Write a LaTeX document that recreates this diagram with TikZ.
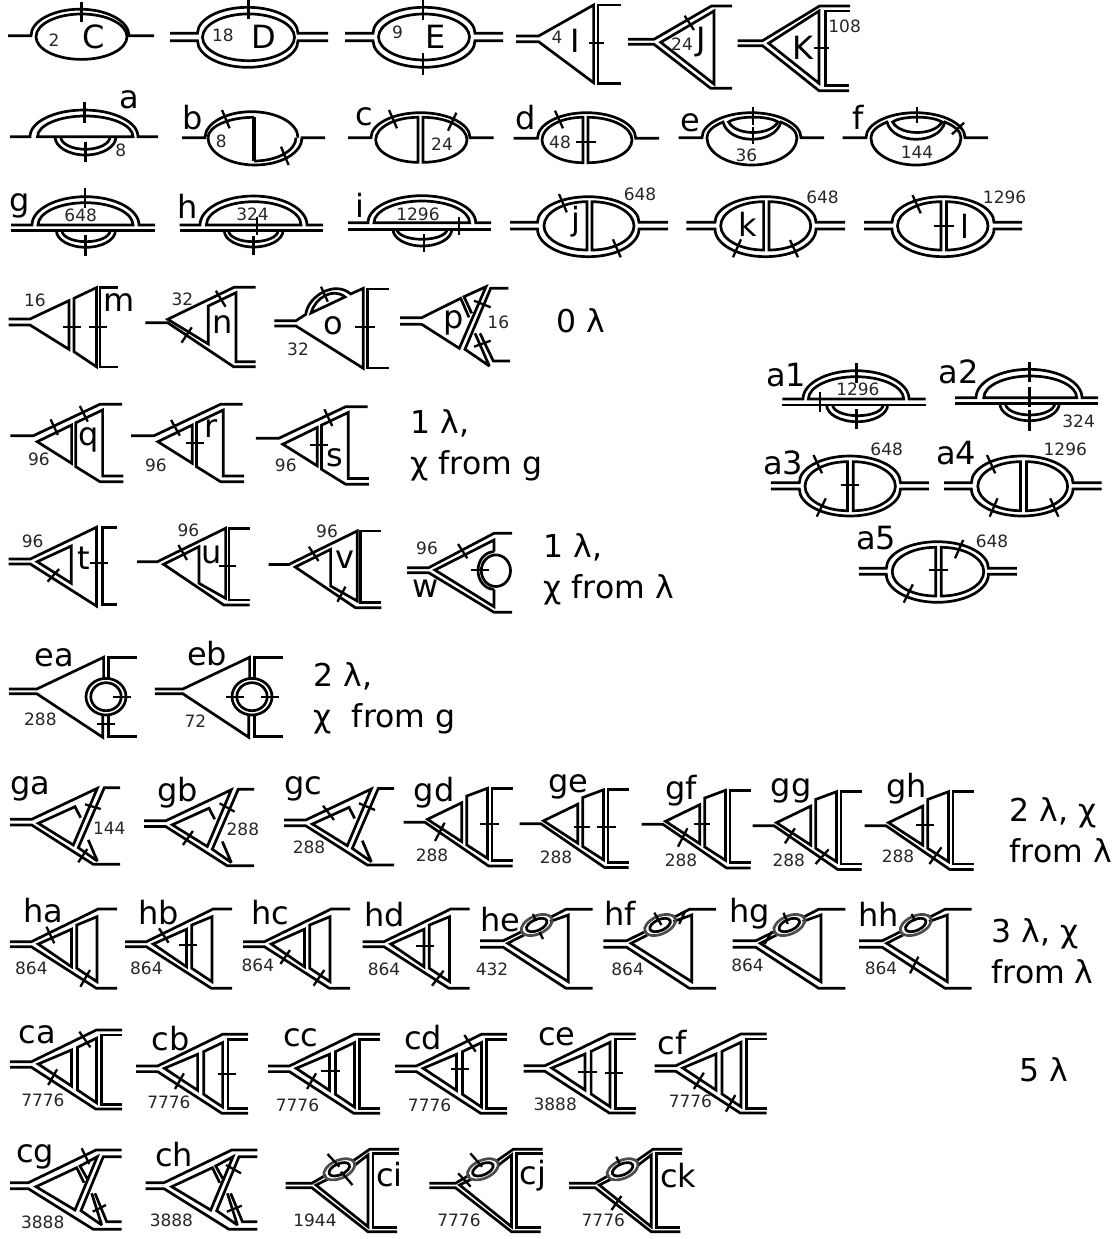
\documentclass[tikz,border=0pt]{standalone}
\usepackage{fontspec}
\setmainfont{DejaVu Sans}
\newcounter{labc}
\tikzset{
  ln/.style={line width=2.7pt, line join=miter, miter limit=3},
  tk/.style={line width=2.3pt},
  lbl/.style={font=\fontsize{32}{34}\selectfont, inner sep=0pt},
  nmb/.style={font=\fontsize{17}{19}\selectfont, inner sep=0pt, text=black!85},
  note/.style={font=\fontsize{31.5}{41}\selectfont, inner sep=0pt, anchor=west, align=left}
}
\newcommand{\lab}[3]{\stepcounter{labc}\node[lbl] (lab\thelabc) at (#1,#2) {#3};}
\newcommand{\nmb}[3]{\stepcounter{labc}\node[nmb] (nmb\thelabc) at (#1,#2) {#3};}
\newcommand{\tick}[4]{\draw[tk] (#1,#2) -- (#3,#4);}
\newcommand{\ovalup}[6]{\draw[ln] (#1,#5) -- (#2,#5) arc[start angle=180,end angle=360,x radius={(#3-#2)/2},y radius=#6] -- (#4,#5);}
\newcommand{\ovaldown}[6]{\draw[ln] (#1,#5) -- (#2,#5) arc[start angle=180,end angle=0,x radius={(#3-#2)/2},y radius=#6] -- (#4,#5);}
\newcommand{\ring}[4]{\draw[ln] (#1,#2) ellipse[x radius=#3,y radius=#4];}
\newcommand{\lid}[4]{\draw[ln] (#1,#3) arc[start angle=180,end angle=360,x radius={(#2-#1)/2},y radius=#4] -- cycle;}
\newcommand{\bowl}[4]{\draw[ln] (#1,#3) arc[start angle=180,end angle=0,x radius={(#2-#1)/2},y radius=#4];}
\newcommand{\dees}[6]{%
  \draw[ln] (#2,#5) arc[start angle=270,end angle=90,x radius={#2-#1},y radius={(#6-#5)/2}] -- cycle;
  \draw[ln] (#3,#5) arc[start angle=-90,end angle=90,x radius={#4-#3},y radius={(#6-#5)/2}] -- cycle;}
\newcommand{\fatoval}[9]{%
  \ovalup{#1}{#2}{#3}{#4}{#5}{#7}
  \ovaldown{#1}{#2}{#3}{#4}{#6}{#8}
  #9}
\newcommand{\browoval}[1]{\begin{scope}[shift={(#1,0)}]
  \ovalup{678.6}{702}{801}{824}{137.7}{25}
  \draw[ln] (723,122.1) arc[start angle=230,end angle=180,x radius=45,y radius=20.4]
    arc[start angle=180,end angle=0,x radius=45,y radius=27.3]
    arc[start angle=360,end angle=310,x radius=45,y radius=20.4]
    .. controls (775,145) and (729,145) .. cycle;
  \draw[ln] (728.6,122) .. controls (738,115.5) and (768,115.5) .. (778,122)
    .. controls (770,136) and (736,136) .. cycle;
\end{scope}}
\newcommand{\ladderfull}[2]{\begin{scope}[shift={(#1,#2)}]
  \draw[ln] (10,1061.7) -- (31.4,1061.7) -- (96.4,1030) -- (122,1030);
  \draw[ln] (10,1067.3) -- (31.4,1067.3) -- (95.7,1109) -- (122,1109);
  \draw[ln] (122,1035) -- (101.8,1035) -- (101.8,1104.3) -- (122,1104.3);
  \draw[ln] (38.2,1064) -- (71.4,1050) -- (71.4,1086) -- cycle;
  \draw[ln] (77.5,1047.3) -- (96.4,1038.3) -- (96.4,1102.7) -- (77.5,1090) -- cycle;
\end{scope}}
\newcommand{\ladderopen}[1]{\begin{scope}[shift={(#1,0)}]
  \draw[ln] (10,941.7) -- (31.4,941.7) -- (98.2,909) -- (117,909);
  \draw[ln] (10,946.7) -- (31.4,946.7) -- (96.4,988.3) -- (117,988.3);
  \draw[ln] (38.2,944) -- (71.4,929.3) -- (71.4,966.7) -- cycle;
  \draw[ln] (76.8,925) -- (97,916.7) -- (97,981.7) -- (76.8,968.3) -- cycle;
\end{scope}}
\newcommand{\ladderbot}[2]{\begin{scope}[shift={(#1,#2)}]
  \draw[ln] (403.6,822.3) -- (425,822.3) -- (488.6,866) -- (512.5,866);
  \draw[ln] (427.5,819.3) -- (461.8,802.7) -- (461.8,841.7) -- cycle;
  \draw[ln] (466.8,796) -- (487.5,788.3) -- (487.5,858.3) -- (466.8,845) -- cycle;
  \draw[ln] (512.5,788.3) -- (492.1,788.3) -- (492.1,860.7) -- (512.5,860.7);
\end{scope}}
\newcommand{\laddertop}[2]{\begin{scope}[shift={(#1,#2)}]
  \draw[ln] (10.3,435.7) -- (33.4,435.7) -- (99.9,404.3) -- (122,404.3);
  \draw[ln] (37.2,441.7) -- (71.6,425) -- (71.6,463.3) -- cycle;
  \draw[ln] (123.3,481.7) -- (99.9,481.7) -- (75.8,466.7) -- (75.8,422.7) -- (102.6,410) -- (102.6,476) -- (123.3,476);
\end{scope}}
\newcommand{\kinktri}[2]{\begin{scope}[shift={(#1,#2)}]
  \draw[ln] (137,561.7) -- (157.4,561.7) -- (225.6,528.3) -- (225.6,598.3) -- (199,583.3) -- (199,546.7) -- (163.6,564.3) -- (223.8,605) -- (249.7,605);
  \draw[ln] (249.7,528.3) -- (229,528.3) -- (229,600) -- (249.7,600);
\end{scope}}
\newcommand{\looptri}[1]{\begin{scope}[shift={(#1,0)}]
  \draw[ln] (8.9,689) -- (36.8,689) -- (103.6,657.3) -- (103.6,678);
  \draw[ln] (8.9,693.7) -- (36.8,693.7) -- (102.8,737.3) -- (102.8,716);
  \draw[ln] (136.8,657.3) -- (108.2,657.3) -- (108.2,678);
  \draw[ln] (136.8,736.7) -- (108.2,736.7) -- (108.2,716);
  \ring{106}{696.7}{20}{18.3}
  \ring{106}{696.7}{15.2}{14}
\end{scope}}
\newcommand{\blob}[2]{%
  \draw[ln,black!70,rotate around={-24:(#1,#2)}] (#1,#2) ellipse[x radius=16.5,y radius=9];
  \draw[ln,rotate around={-24:(#1,#2)}] (#1,#2) ellipse[x radius=11,y radius=5.5];}
\newcommand{\bubbletri}[1]{\begin{scope}[shift={(#1,0)}]
  \draw[ln] (859,940.7) -- (882.3,940.7) -- (902,931);
  \draw[ln] (930,917) -- (945,909.3) -- (971.7,909.3);
  \draw[ln] (903,935) -- (886.7,943.3) -- (947.3,981.7) -- (947.3,915) -- (929,921.5);
  \draw[ln] (859,947.3) -- (882.3,947.3) -- (945,988.3) -- (971.7,988.3);
  \blob{915.7}{925}
\end{scope}}
\newcommand{\bubblebox}[1]{\begin{scope}[shift={(#1,0)}]
  \draw[ln] (285.7,1183.3) -- (311.8,1183.3) -- (326,1175);
  \draw[ln] (353.6,1160.5) -- (369.6,1149.3) -- (399,1149.3);
  \draw[ln] (328,1179) -- (316,1185) -- (367.9,1226.7) -- (367.9,1155) -- (355,1165);
  \draw[ln] (285.7,1187.7) -- (311.8,1187.7) -- (367.9,1231.7) -- (397,1231.7);
  \draw[ln] (399,1153.3) -- (373,1153.3) -- (373,1227.3) -- (397,1227.3);
  \blob{339.3}{1169.3}
\end{scope}}
\newcommand{\crossone}[2]{\begin{scope}[shift={(#1,#2)}]
  \draw[ln] (10,819.3) -- (31.7,819.3) -- (97.3,788.3) -- (73.3,845) -- (38.3,823.3) -- (75,806.7) -- (80.7,817.7);
  \draw[ln] (120,787.7) -- (104.3,787.7) -- (78.3,847.7) -- (97.3,861) -- (88.3,840);
  \draw[ln] (10,825) -- (31.7,825) -- (93.3,864.3) -- (120,864.3);
\end{scope}}
\newcommand{\crosstwo}[1]{\begin{scope}[shift={(#1,0)}]
  \draw[ln] (10,1182.7) -- (28.3,1182.7) -- (96,1150) -- (121.7,1150);
  \draw[ln] (10,1188.7) -- (28.3,1188.7) -- (93.3,1229.3) -- (121.7,1229.3);
  \draw[ln] (84,1182.7) -- (76.7,1167.7) -- (36,1186.7) -- (75,1210) -- (97.3,1156.7) -- (80,1166) -- (88.3,1180.7);
  \draw[ln] (121.7,1156.7) -- (103.3,1156.7) -- (81,1210.7) -- (101.7,1225) -- (91.7,1193.3);
  \draw[ln] (95,1193.3) -- (106.7,1221.7) -- (121.7,1221.7);
\end{scope}}

\begin{document}
\begin{tikzpicture}[x=1pt,y=1pt,yscale=-1]
\useasboundingbox (0,0) rectangle (1118,1239);

\ovalup{8}{31}{129}{154}{35.7}{26.5}
\ring{81.5}{36.7}{45.5}{22.7}
\tick{81.5}{2}{81.5}{22}
\lab{94}{37}{C} \nmb{54}{40}{2}

\fatoval{170}{197.5}{298}{328}{33.3}{40.7}{26}{26.6}{\ring{248.5}{37.3}{46}{23.4}}
\tick{248.5}{0}{248.5}{19}
\lab{264}{37}{D} \nmb{223}{35}{18}

\fatoval{345}{373}{475}{503}{33.3}{40.7}{26}{26.6}{\ring{424}{37}{45.5}{23}}
\tick{423}{0}{423}{20} \tick{423}{53}{423}{75}
\lab{436}{37}{E} \nmb{397.5}{32}{9}

\draw[ln] (516,36) -- (538.6,36) -- (593.6,5) -- (593.6,82.7) -- (538.6,41.7) -- (516,41.7);
\draw[ln] (620.7,5) -- (598,5) -- (598,83.3) -- (620.7,83.3);
\tick{588.6}{43.3}{603.6}{43.3}
\lab{575.7}{40.7}{I} \nmb{557}{37.7}{4}

\draw[ln] (628,39.3) -- (654,39.3) -- (711.4,6) -- (732,6);
\draw[ln] (628,44.3) -- (654,44.3) -- (710.7,88.3) -- (732,88.3);
\draw[ln] (660.7,42.3) -- (714,11) -- (714,84) -- cycle;
\tick{684.6}{15.7}{694}{30}
\lab{701}{41.7}{J} \nmb{682}{44.3}{24}

\draw[ln] (737.5,40.7) -- (762.5,40.7) -- (819.6,6) -- (850,6);
\draw[ln] (737.5,45.7) -- (762.5,45.7) -- (819,90.7) -- (849,90.7);
\draw[ln] (768.6,43.3) -- (819,11) -- (819,83.3) -- cycle;
\draw[ln] (850,11) -- (825.7,11) -- (825.7,85.7) -- (849,85.7);
\tick{814}{48.3}{829}{48.3}
\lab{803}{48}{K} \nmb{844.6}{26}{108}

\ovalup{10}{30}{138}{158}{136.7}{26.7}
\lid{37.5}{133}{136.7}{20.7}
\bowl{55}{116}{136.7}{18.3} \bowl{60.7}{110}{136.7}{12.6}
\tick{84.6}{101.7}{84.6}{122.7} \tick{85.5}{141.7}{85.5}{161.7}
\lab{129}{100}{a} \nmb{120.7}{150.7}{8}

\ovalup{182}{205}{298}{298}{137.7}{26}
\ovaldown{208}{208}{302}{325}{137.7}{27.3}
\draw[ln] (208,137.7) arc[start angle=180,end angle=270,x radius=46,y radius=20.4] (254,161) arc[start angle=90,end angle=0,x radius=42,y radius=23.3];
\draw[ln,line width=3.4pt] (254,117.3) -- (254,161);
\tick{222}{110}{229.6}{128.3} \tick{281}{146.7}{288.6}{165}
\lab{193}{118}{b} \nmb{221.4}{141.7}{8}

\ovalup{348}{371}{470}{493.5}{137.7}{25}
\dees{375.7}{418}{423}{467}{117.3}{162.3}
\tick{389}{110}{397}{128.3} \tick{456.4}{112.7}{448}{130.7}
\lab{364}{116.7}{c} \nmb{442}{144.3}{24}

\ovalup{513.6}{537.5}{635.7}{659}{138.3}{25.6}
\dees{542}{583}{588}{632}{117.3}{162.7}
\tick{555}{110.7}{563}{128.3} \tick{576}{141.7}{596}{141.7}
\lab{526}{117.3}{d} \nmb{560}{142.7}{48}

\browoval{0}
\tick{753}{106.7}{753}{125} \tick{753}{127.3}{753}{144.3}
\lab{690}{123}{e} \nmb{746.4}{155}{36}

\browoval{164}
\tick{917}{106.7}{917}{123} \tick{952}{134.3}{964}{122.7}
\lab{858}{117.3}{f} \nmb{917}{152.7}{144}

\ovalup{11}{32}{139}{155}{225}{28.3}
\lid{38}{133}{225}{22.3}
\draw[ln] (11,230.7) -- (155,230.7);
\bowl{56.4}{115.4}{230.7}{16.6} \bowl{62}{110}{230.7}{11}
\tick{85}{188}{85}{208} \tick{85.5}{235}{85.5}{256}
\lab{19.6}{205.7}{g} \nmb{80.7}{215}{648}

\ovalup{179.6}{200}{307}{323}{225}{29}
\lid{206.4}{301}{225}{23.3}
\draw[ln] (179.6,230.7) -- (323,230.7);
\bowl{224.3}{283}{230.7}{16.3} \bowl{228.6}{278}{230.7}{11}
\tick{257}{216.7}{257}{235} \tick{253.6}{236}{253.6}{255}
\lab{188}{206.7}{h} \nmb{252.5}{214.3}{324}

\ovalup{348}{368}{475.7}{491}{222.7}{27}
\lid{374}{469.6}{222.7}{21.7}
\draw[ln] (348,229.3) -- (491,229.3);
\bowl{393}{451.8}{229.3}{16.7} \bowl{397}{447}{229.3}{10}
\tick{459}{216.7}{459}{235} \tick{424}{234}{424}{252}
\lab{360}{205.7}{i} \nmb{418}{214}{1296}

\fatoval{510}{537.5}{639}{668}{222.3}{229}{25.6}{27.7}{\dees{544}{587}{592}{634}{201.7}{250}}
\tick{559}{194}{566.8}{212.3} \tick{612.9}{239.3}{620.7}{257.3}
\lab{576}{221.7}{j} \nmb{640}{194.3}{648}

\fatoval{686.4}{715}{816}{845}{222.3}{229}{25.6}{27.7}{\dees{720.7}{763.6}{769}{810.7}{201.7}{250}}
\tick{741}{239.3}{733}{257.3} \tick{790}{240}{798}{257.3}
\lab{748}{224}{k} \nmb{822.5}{197.7}{648}

\fatoval{864}{892}{994}{1022}{222.3}{229}{25.6}{27.7}{\dees{897.5}{941}{946.4}{988}{201.7}{250}}
\tick{912.5}{195}{920.7}{213.3} \tick{934}{226}{954}{226}
\lab{965}{226}{l} \nmb{1004.6}{197.3}{1296}

\draw[ln] (8.6,319) -- (30,319) -- (68.9,300.7) -- (68.9,349.3) -- (30,325) -- (8.6,325);
\draw[ln] (74,298.3) -- (96.4,287.7) -- (96.4,366.7) -- (74,351.7) -- cycle;
\draw[ln] (117.8,287.3) -- (99.9,287.3) -- (99.9,367) -- (117.8,367);
\tick{62.7}{327.3}{81}{327.3} \tick{88.8}{327.3}{107.4}{327.3}
\lab{119.5}{303}{m} \nmb{35}{300}{16}

\draw[ln] (145.3,322.7) -- (167.7,322.7) -- (233.5,366.7) -- (255.5,366.7);
\draw[ln] (255.5,287.3) -- (234,287.3) -- (167.7,319.3) -- (208.3,344) -- (208.3,306) -- (235.9,292.7) -- (235.9,361.7) -- (255.5,361.7);
\tick{215.9}{290.7}{225.5}{306.7} \tick{181.5}{342.7}{191.8}{327.3}
\lab{222.8}{325}{n} \nmb{182.5}{299}{32}

\draw[ln] (274.4,320.7) -- (296,320.7) -- (305.8,314.3) .. controls (308,296) and (335,280) .. (350.6,294) -- (363.3,288.3) -- (363.3,368.3) -- (296,326) -- (274.4,326);
\draw[ln] (311,313) .. controls (315,298) and (333,287) .. (345,297) -- cycle;
\draw[ln] (389,289) -- (367.4,289) -- (367.4,368) -- (389,368);
\tick{354.7}{327.3}{374.7}{327.3} \tick{321}{286.7}{327.8}{301.7}
\lab{333.3}{325.7}{o} \nmb{298}{349.3}{32}

\draw[ln] (400,317.7) -- (421.7,317.7) -- (460.7,298.3) -- (469,317.3);
\draw[ln] (400,324.3) -- (421.7,324.3) -- (459.3,348.3) -- (486,286.7) -- (464,296.7) -- (471.7,313.3);
\draw[ln] (508.3,288.3) -- (490.7,288.3) -- (465,349.3) -- (489.3,366) -- (475,333.3);
\draw[ln] (480,333.3) -- (493.3,361) -- (510,361);
\tick{474}{300.7}{490.7}{307.3} \tick{474}{346.7}{490.7}{340.7}
\lab{453.3}{323.3}{p} \nmb{498.3}{322.7}{16}

\stepcounter{labc}\node[note] (note\thelabc) at (556,321) {0 λ};

\laddertop{0}{0}
\tick{50.6}{419.3}{57.9}{435} \tick{79.9}{406}{87.8}{421.7}
\lab{88.8}{440}{q} \nmb{38.9}{459.3}{96}

\laddertop{120.7}{0}
\tick{171.1}{420}{179.8}{435.7} \tick{186}{443.3}{203.9}{443.3}
\lab{210.7}{429}{r} \nmb{156}{465}{96}

\laddertop{245.6}{2.5}
\tick{324.4}{409.3}{332.3}{426} \tick{310}{445}{327.8}{445}
\lab{334.7}{457.3}{s} \nmb{285.8}{465}{96}

\stepcounter{labc}\node[note] (note\thelabc) at (410.5,445) {1 λ,\\χ from g};

\draw[ln] (8.6,559) -- (30.3,559) -- (96.4,527.3) -- (96.4,606) -- (30.3,564) -- (8.6,564);
\draw[ln] (37.2,561.7) -- (71.3,546) -- (71.3,583.3) -- cycle;
\draw[ln] (117,527.3) -- (102.6,527.3) -- (102.6,604.3) -- (117,604.3);
\tick{90.2}{562.7}{107.8}{562.7} \tick{59.2}{569}{47.5}{581.7}
\lab{83.7}{558.3}{t} \nmb{32.7}{541}{96}

\kinktri{0}{0}
\tick{178.4}{545}{187}{560} \tick{218.7}{565.7}{235.9}{565.7}
\lab{211.8}{555}{u} \nmb{188.4}{530.7}{96}

\kinktri{131.6}{2.7}
\tick{308.9}{546.7}{318.5}{561} \tick{345.4}{586.7}{337.5}{601.7}
\lab{345.4}{560}{v} \nmb{327}{531}{96}

\draw[ln] (407,567.7) -- (428.7,567.7) -- (494,533.3) -- (512,533.3);
\draw[ln] (407,572.7) -- (428.7,572.7) -- (494,612.3) -- (512,612.3);
\draw[ln] (494,551.7) -- (494,540) -- (434.9,570) -- (494,606.7) -- (494,589.3);
\draw[ln] (494,551.7) arc[start angle=-90,end angle=-270,x radius=16,y radius=18.8];
\ring{495.9}{570.7}{14.6}{15.8}
\tick{470.7}{570}{489}{570} \tick{458}{544}{467.3}{558.3}
\lab{426}{588.3}{w} \nmb{427}{548.3}{96}

\stepcounter{labc}\node[note] (note\thelabc) at (543.5,569.5) {1 λ,\\χ from λ};

\ovalup{782.3}{803}{909}{925.6}{399}{28.3}
\lid{808.4}{903.7}{399}{22.3}
\draw[ln] (782.3,405) -- (925.6,405);
\bowl{826.7}{887.6}{405}{16.7} \bowl{832.7}{883}{405}{10.7}
\tick{856.5}{363.3}{856.5}{383.3} \tick{856.5}{409}{856.5}{429.3} \tick{820.3}{391.7}{820.3}{411.7}
\lab{786}{375}{a1} \nmb{857.9}{389.3}{1296}

\ovalup{955}{976}{1082}{1098}{397.7}{28.4}
\lid{983.8}{1076.7}{397.7}{21.7}
\draw[ln] (955,403.3) -- (1098,403.3);
\bowl{999.8}{1059.3}{403.3}{17.4} \bowl{1005.3}{1054.8}{403.3}{11.7}
\tick{1029.6}{361.7}{1029.6}{381.7} \tick{1029.6}{387.3}{1029.6}{407.3} \tick{1029.6}{410}{1029.6}{430.7}
\lab{958.6}{371.7}{a2} \nmb{1078.6}{421.7}{324}

\fatoval{770.9}{799.3}{900.5}{928.9}{482.7}{489}{26.7}{27}{\dees{805}{847.4}{853.3}{895.4}{461.7}{510.7}}
\tick{813.5}{455}{822}{473.3} \tick{840.5}{485}{859}{485} \tick{825.8}{498.3}{816.7}{516.7}
\lab{783.2}{462.7}{a3} \nmb{886.7}{449.3}{648}

\fatoval{944}{971.4}{1073}{1101.5}{482.7}{489}{26.7}{27}{\dees{977.8}{1020.4}{1026.4}{1067.6}{461.7}{510.7}}
\tick{987}{455}{995.2}{473.3} \tick{997.5}{498.3}{989.7}{516.7} \tick{1050.2}{498.3}{1058.4}{516.7}
\lab{956.3}{453.3}{a4} \nmb{1065.3}{449.3}{1296}

\fatoval{858.8}{886.3}{988.4}{1016.8}{568.3}{574.3}{26.6}{28}{\dees{892.2}{935.7}{941.2}{983.8}{547.3}{596}}
\tick{963.2}{540}{955}{558.3} \tick{928.9}{570}{948}{570} \tick{912.8}{584.3}{903.7}{602.7}
\lab{876.2}{538.3}{a5} \nmb{992}{541}{648}

\looptri{0}
\tick{112.5}{696.7}{131}{696.7} \tick{97}{724.3}{115.4}{724.3}
\lab{54.6}{657.3}{ea} \nmb{40.4}{719}{288}

\looptri{146}
\tick{225.7}{696.7}{243.9}{696.7} \tick{260.7}{696.7}{278.6}{696.7}
\lab{207}{653.3}{eb} \nmb{195.4}{721}{72}

\stepcounter{labc}\node[note] (note\thelabc) at (313.5,698.5) {2 λ,\\χ\ \ from g};

\crossone{0}{0}
\tick{85}{804.3}{100.7}{809} \tick{87.3}{849}{78.3}{862.3}
\lab{30.4}{789}{ga} \nmb{109.3}{828.3}{144}

\crossone{134}{1.5}
\tick{219.6}{803.3}{234.6}{811.7} \tick{192.9}{831}{182.9}{845}
\lab{177.5}{793}{gb} \nmb{242.9}{829.3}{288}

\crossone{274}{0.7}
\tick{359}{803.3}{375}{810} \tick{323}{805.7}{334}{820}
\lab{303}{789}{gc} \nmb{309}{847.7}{288}

\ladderbot{0}{0}
\tick{480.4}{824}{499}{824} \tick{444.6}{822.7}{435}{841}
\lab{434}{793}{gd} \nmb{432}{855}{288}

\ladderbot{116}{1.5}
\tick{574}{826.7}{590}{826.7} \tick{597.4}{826.7}{616}{826.7}
\lab{568}{787}{ge} \nmb{556}{857}{288}

\ladderbot{238}{2}
\tick{693.5}{824}{710}{824} \tick{687.4}{828.3}{678}{846.7}
\lab{681}{791}{gf} \nmb{681}{860.7}{288}

\ladderbot{349}{3.4}
\tick{794.9}{828.3}{784.9}{843.3} \tick{828.7}{849.3}{815.5}{864}
\lab{791.3}{791}{gg} \nmb{788.8}{860}{288}

\ladderbot{461}{3.4}
\tick{915.9}{825}{933.7}{825} \tick{941.5}{847.3}{929.4}{864}
\lab{906.3}{789}{gh} \nmb{898}{856}{288}

\stepcounter{labc}\node[note] (note\thelabc) at (1009.5,830) {2 λ, χ\\from λ};

\ladderopen{0}
\tick{46.4}{926.7}{54.3}{943.3} \tick{90}{970}{80.4}{986.7}
\lab{43.6}{910.7}{ha} \nmb{31.4}{968.3}{864}

\ladderopen{115}
\tick{159}{928.3}{168.6}{942.7} \tick{178.6}{945}{197}{945}
\lab{159}{913}{hb} \nmb{146.4}{968.3}{864}

\ladderopen{233}
\tick{290}{950}{280.4}{964} \tick{324.3}{970}{313.6}{985.7}
\lab{270.4}{913}{hc} \nmb{257.9}{965}{864}

\ladderopen{352.5}
\tick{416}{945.7}{434}{945.7} \tick{443.6}{970.7}{432}{985.7}
\lab{384.6}{915}{hd} \nmb{384}{969.3}{864}

\bubbletri{-379}
\tick{532.9}{914}{536}{921} \tick{539.5}{932}{543}{939}
\lab{500}{920}{he} \nmb{492}{969.3}{432}

\bubbletri{-255.6}
\tick{654.3}{912.7}{661.4}{925} \tick{685.3}{910.7}{679.2}{924}
\lab{619.8}{913.3}{hf} \nmb{627.6}{969}{864}

\bubbletri{-126.4}
\tick{783.5}{912.7}{787.8}{924} \tick{771.7}{931.7}{764.6}{944}
\lab{749.7}{914}{hg} \nmb{747.5}{965}{864}

\bubbletri{0}
\tick{911.7}{914}{915}{921} \tick{918.3}{956.7}{910}{973.3}
\lab{878.5}{914}{hh} \nmb{881}{968.3}{864}

\stepcounter{labc}\node[note] (note\thelabc) at (991.5,951) {3 λ, χ\\from λ};

\ladderfull{0}{0}
\tick{79.3}{1031.7}{90.4}{1047.3} \tick{57.1}{1069.3}{48.2}{1085}
\lab{37.5}{1035}{ca} \nmb{42.9}{1100.7}{7776}

\ladderfull{126.2}{4.3}
\tick{217.9}{1074}{236.4}{1074} \tick{183.9}{1073.3}{175}{1089}
\lab{170.7}{1038.3}{cb} \nmb{168.9}{1102.7}{7776}

\ladderfull{258}{4.3}
\tick{321.4}{1070.7}{340}{1070.7} \tick{316}{1073.3}{307}{1089}
\lab{300.7}{1037.3}{cc} \nmb{297.5}{1105}{7776}

\ladderfull{385}{4.3}
\tick{464.3}{1035}{475.7}{1051.7} \tick{451}{1069}{469}{1069}
\lab{423}{1037.3}{cd} \nmb{429.6}{1105.7}{7776}

\ladderfull{513.6}{4}
\tick{578}{1071.7}{596.6}{1071.7} \tick{604.5}{1073.3}{623}{1073.3}
\lab{557}{1036.7}{ce} \nmb{555.2}{1104.3}{3888}

\ladderfull{644.5}{4}
\tick{703.8}{1072.7}{693.9}{1089} \tick{735.3}{1095}{725.9}{1111.7}
\lab{672.3}{1042.3}{cf} \nmb{690.4}{1101}{7776}

\stepcounter{labc}\node[note] (note\thelabc) at (1019,1069.3) {5 λ};

\crosstwo{0}
\tick{81.7}{1148.3}{89.3}{1164} \tick{92.7}{1211.7}{106}{1205}
\lab{35}{1156.7}{cg} \nmb{42.7}{1222.3}{3888}

\crosstwo{135.7}
\tick{226}{1165}{241}{1173.3} \tick{226.8}{1211.7}{241.8}{1205.7}
\lab{174.3}{1155}{ch} \nmb{171.4}{1220.7}{3888}

\bubblebox{0}
\tick{327.5}{1154}{339.3}{1166.7} \tick{341}{1171.7}{352.5}{1185}
\lab{389.3}{1175}{ci} \nmb{315}{1220.7}{1944}

\bubblebox{143.6}
\tick{470.4}{1153.3}{482}{1166.7} \tick{458.2}{1173.3}{470.7}{1186.7}
\lab{533}{1176}{cj} \nmb{459}{1220.7}{7776}

\bubblebox{283.3}
\tick{616.3}{1156.7}{620.2}{1165} \tick{621.4}{1196}{611.5}{1210}
\lab{678.2}{1175.7}{ck} \nmb{603.3}{1220.7}{7776}
\end{tikzpicture}
\end{document}
